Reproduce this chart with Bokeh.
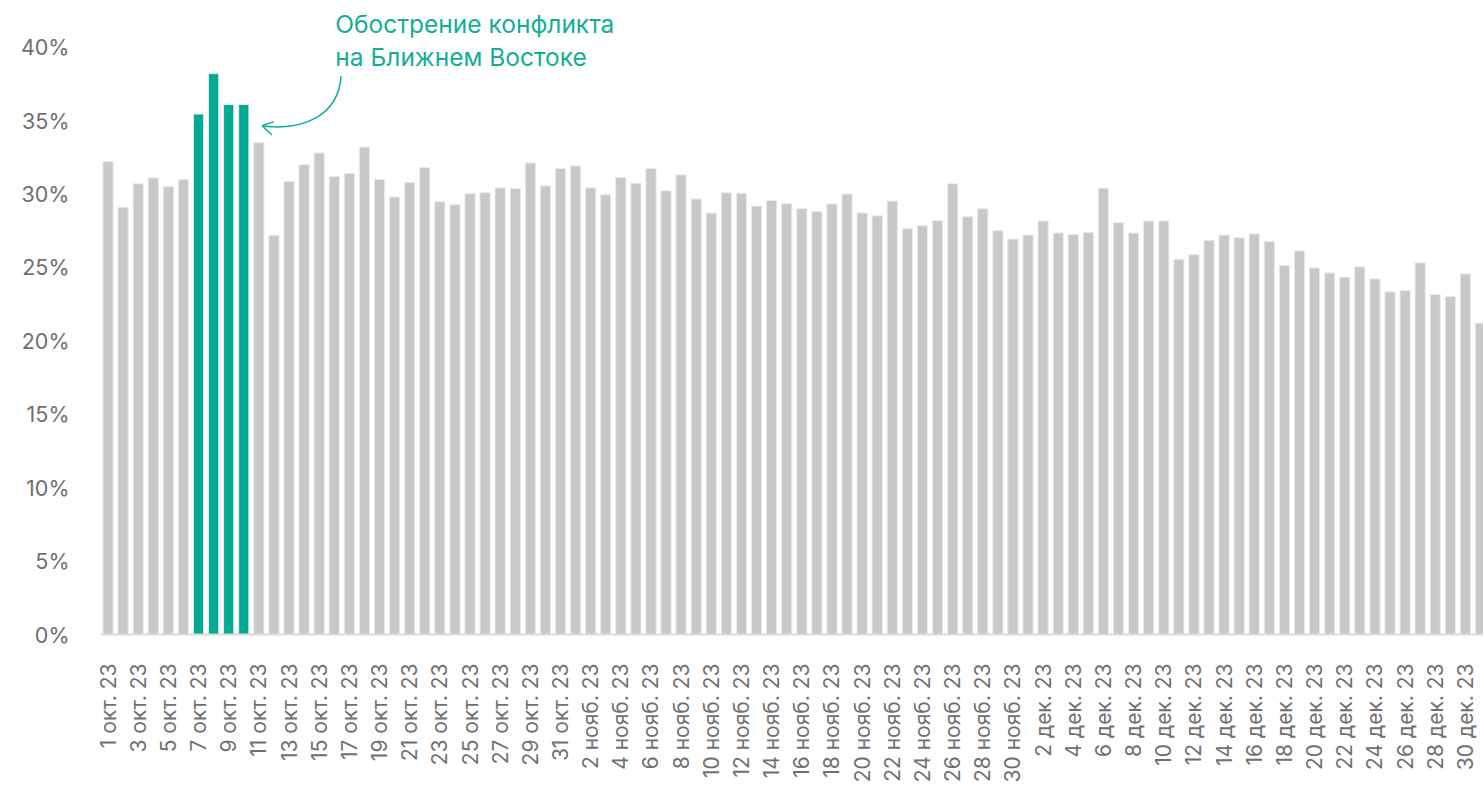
from bokeh.plotting import figure
from bokeh.models import Range1d, FixedTicker, PrintfTickFormatter, ColumnDataSource
from bokeh.core.properties import value
from bokeh.embed import file_html
from bokeh.resources import INLINE

# ---- data ----
month_names = ["окт.", "нояб.", "дек."]
month_days = [31, 30, 31]
year_label = "23"
share = [32.2, 29.1, 30.7, 31.1, 30.5, 31.0, 35.45, 38.2, 36.1, 36.1,
         33.5, 27.2, 30.85, 32.0, 32.8, 31.2, 31.4, 33.2, 31.0, 29.8, 30.8, 31.8,
         29.47, 29.27, 30.02, 30.09, 30.42, 30.38, 32.12, 30.56, 31.74, 31.92, 30.42,
         29.95, 31.13, 30.74, 31.74, 30.22, 31.31, 29.66, 28.71, 30.09, 30.06, 29.18, 29.56,
         29.34, 29.0, 28.82, 29.32, 30.0, 28.71, 28.52, 29.52, 27.64, 27.84, 28.2, 30.7,
         28.46, 29.0, 27.5, 26.94, 27.21, 28.16, 27.35, 27.25, 27.39, 30.4, 28.05, 27.35,
         28.16, 28.16, 25.56, 25.87, 26.85, 27.21, 27.03, 27.28, 26.76, 25.13, 26.13, 24.97,
         24.63, 24.33, 25.04, 24.22, 23.34, 23.43, 25.31, 23.16, 23.02, 24.56, 21.21]
highlight_days = ["7 окт. 23", "8 окт. 23", "9 окт. 23", "10 окт. 23"]
y_ticks = [0, 5, 10, 15, 20, 25, 30, 35, 40]
annotation_lines = ["Обострение конфликта", "на Ближнем Востоке"]

labels = []
for m, n in zip(month_names, month_days):
    for d in range(1, n + 1):
        labels.append(f"{d} {m} {year_label}")

GRAY = "#c8c8c8"
TEAL = "#00aa95"
TEXT = "#707070"
ANN = "#14ad98"
FONT = "Inter"

idx = list(range(len(labels)))
colors = [TEAL if l in highlight_days else GRAY for l in labels]
src = ColumnDataSource(dict(x=idx, top=share, color=colors, label=labels))

p = figure(width=1483, height=785, output_backend="svg", toolbar_location=None,
           x_range=Range1d(-0.5, 91.2), y_range=Range1d(0, 42.5),
           min_border_left=100, min_border_right=0, min_border_top=10, min_border_bottom=149)
p.outline_line_color = None
p.grid.visible = False
p.background_fill_color = "white"

p.vbar(x="x", top="top", width=0.68, source=src, fill_color="color",
       line_color="#ebebeb", line_width=1)

# x axis
xa = p.xaxis[0]
xa.ticker = FixedTicker(ticks=idx[::2])
xa.major_label_overrides = {i: labels[i] for i in idx[::2]}
xa.major_label_orientation = 3.14159265 / 2
xa.major_tick_line_color = None
xa.minor_tick_line_color = None
xa.axis_line_color = "#dcdcdc"
xa.axis_line_width = 2
xa.major_label_text_font = FONT
xa.major_label_text_font_size = "21px"
xa.major_label_text_color = TEXT
xa.major_label_standoff = 23

# y axis
ya = p.yaxis[0]
ya.ticker = FixedTicker(ticks=y_ticks)
ya.formatter = PrintfTickFormatter(format="%d%%")
ya.axis_line_color = None
ya.major_tick_line_color = None
ya.minor_tick_line_color = None
ya.major_label_text_font = FONT
ya.major_label_text_font_size = "21.5px"
ya.major_label_text_color = TEXT
ya.major_label_standoff = 25

# annotation
p.text(x=[15.07, 15.07], y=[41.6, 39.35], text=annotation_lines,
       text_font=value(FONT), text_font_size="24.5px", text_color=ANN,
       text_baseline="alphabetic", text_align="left")
p.bezier(x0=[15.45], y0=[38.03], x1=[10.3], y1=[34.64],
         cx0=[15.27], cy0=[35.3], cx1=[12.9], cy1=[34.3],
         line_color=ANN, line_width=1.5)
p.segment(x0=[10.21, 10.21], y0=[34.66, 34.66], x1=[10.98, 10.87], y1=[34.92, 34.02],
          line_color=ANN, line_width=1.5)

open("out.html", "w").write(file_html(p, INLINE))
